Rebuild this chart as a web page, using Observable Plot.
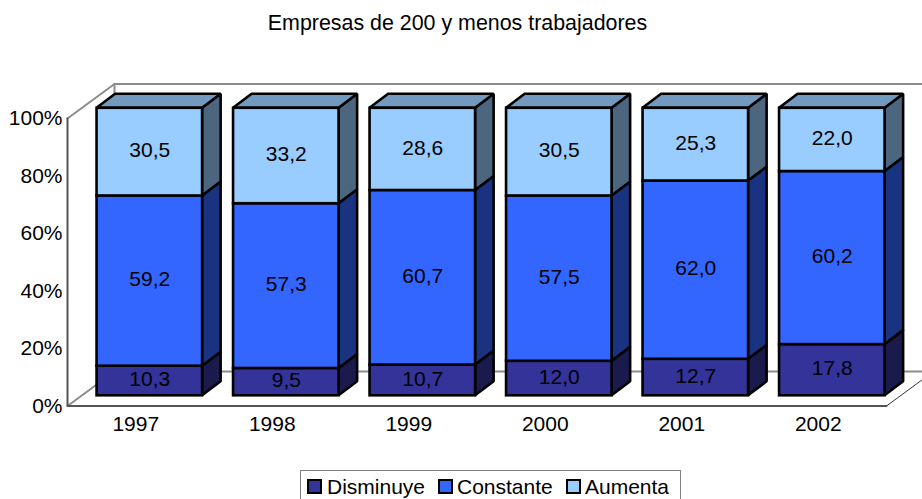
<!DOCTYPE html>
<html lang="es">
<head>
<meta charset="utf-8">
<script src="https://cdn.jsdelivr.net/npm/d3@7"></script>
<script src="https://cdn.jsdelivr.net/npm/@observablehq/plot@0.6"></script>
<style>
html,body{margin:0;padding:0;background:#fff;overflow:hidden}
body{width:922px;height:499px;position:relative;font-family:"Liberation Sans",Arial,sans-serif;color:#000}
#title{height:60px;line-height:47px;font-size:21.4px;text-align:center;width:915px}
#legend{position:absolute;left:300px;top:470px;width:381px;height:34px;border:1.5px solid #808080;box-sizing:border-box;font-size:21px;line-height:31px;white-space:nowrap}
#legend span{position:absolute;top:0}
#legend i{position:absolute;top:8px;border:2px solid #000;box-sizing:content-box;width:11px;height:11px}
svg{display:block}
</style>
</head>
<body>
<div id="title">Empresas de 200 y menos trabajadores</div>
<div id="chart"></div>
<div id="legend"></div>
<script>
const years = ["1997","1998","1999","2000","2001","2002"];
const disminuye = [10.3, 9.5, 10.7, 12.0, 12.7, 17.8];
const constante = [59.2, 57.3, 60.7, 57.5, 62.0, 60.2];
const aumenta   = [30.5, 33.2, 28.6, 30.5, 25.3, 22.0];
const seriesNames = ["Disminuye","Constante","Aumenta"];
const frontColors = ["#333399","#3366FF","#99CCFF"];
const sideColors  = ["#1A1A4D","#1A3380","#4D6680"];
const topColor = "#7399BF";

// 3D projection offsets, expressed in scale units
const wallX = 0.344, wallY = 12;     // depth of the whole floor
const planeX = 0.103, planeY = 3.55; // bar front plane relative to axis plane
const depthX = 0.136, depthY = 4.87; // depth of a bar
const barW = 0.773;
const xL = -0.5, xR = 5.5;

const values = [disminuye, constante, aumenta];
const segments = [];
years.forEach((year, i) => {
  let base = 0;
  values.forEach((v, s) => {
    segments.push({i, year, s, v: v[i], low: base, high: base + v[i],
      left: i + planeX - barW / 2, right: i + planeX + barW / 2});
    base += v[i];
  });
});
const sideRows = segments.flatMap(d => [
  {id: d.i + "-" + d.s, s: d.s, x: d.right, y1: d.low + planeY, y2: d.high + planeY},
  {id: d.i + "-" + d.s, s: d.s, x: d.right + depthX, y1: d.low + planeY + depthY, y2: d.high + planeY + depthY}
]);
const topRows = years.flatMap((y, i) => {
  const l = i + planeX - barW / 2, r = i + planeX + barW / 2;
  return [
    {id: i, x1: l, x2: r, y: 100 + planeY},
    {id: i, x1: l + depthX, x2: r + depthX, y: 100 + planeY + depthY}
  ];
});
const wallLines = [
  {id:"a", x:xL, y:100}, {id:"a", x:xL+wallX, y:100+wallY}, {id:"a", x:xR+wallX+1, y:100+wallY},
  {id:"b", x:xL, y:0},   {id:"b", x:xL+wallX, y:wallY},     {id:"b", x:xR+wallX+1, y:wallY},
  {id:"c", x:xL+wallX, y:wallY}, {id:"c", x:xL+wallX, y:100+wallY}
];
const frontLines = [
  {id:"l", x:xL, y:100}, {id:"l", x:xL, y:0}, {id:"l", x:xR, y:0}
];
const rightEdge = [{x:xR, y:0}, {x:xR+wallX, y:wallY}];

const barStyle = {stroke:"#000", strokeWidth:2.6, strokeLinejoin:"miter"};

const plot = Plot.plot({
  width: 922, height: 400,
  marginLeft: 67, marginRight: 36, marginTop: 58, marginBottom: 54.5,
  style: {fontFamily:'"Liberation Sans",Arial,sans-serif', fontSize:"21px", background:"#fff", color:"#000"},
  x: {type:"linear", domain:[xL, xR], axis:null},
  y: {domain:[0,100], axis:null},
  marks: [
    Plot.line(wallLines, {x:"x", y:"y", z:"id", stroke:"#8c8c8c", strokeWidth:2}),
    Plot.line(rightEdge, {x:"x", y:"y", stroke:"#333", strokeWidth:1}),
    Plot.line(frontLines, {x:"x", y:"y", z:"id", stroke:"#555", strokeWidth:2}),
    ...seriesNames.map((n, s) => Plot.area(sideRows.filter(d => d.s === s),
      {x1:"x", y1:"y1", y2:"y2", z:"id", fill:sideColors[s], ...barStyle})),
    Plot.area(topRows, {x1:"x1", x2:"x2", y1:"y", z:"id", fill:topColor, ...barStyle}),
    ...seriesNames.map((n, s) => Plot.rect(segments.filter(d => d.s === s),
      {x1:"left", x2:"right", y1: d => d.low + planeY, y2: d => d.high + planeY, fill:frontColors[s], ...barStyle})),
    Plot.text(segments, {
      x: d => d.i + planeX, y: d => (d.low + d.high) / 2 + planeY,
      text: d => d.v.toFixed(1).replace(".", ","),
      dy: -1.5, fontSize: 21, fill: "#000"
    }),
    Plot.axisY({ticks:[0,20,40,60,80,100], tickFormat:d => d + "%", tickSize:0, tickPadding:5, label:null, fontSize:21, fill:"#000"}),
    Plot.axisX({ticks:d3.range(years.length), tickFormat:i => years[i], tickSize:0, tickPadding:10, label:null, fontSize:21, fill:"#000"})
  ]
});
document.getElementById("chart").appendChild(plot);

const legend = document.getElementById("legend");
const swatchX = [6, 137, 265], labelX = [26, 156, 284];
seriesNames.forEach((n, s) => {
  const sw = document.createElement("i");
  sw.style.left = swatchX[s] + "px";
  sw.style.background = frontColors[s];
  legend.appendChild(sw);
  const t = document.createElement("span");
  t.style.left = labelX[s] + "px";
  t.textContent = n;
  legend.appendChild(t);
});
</script>
</body>
</html>
